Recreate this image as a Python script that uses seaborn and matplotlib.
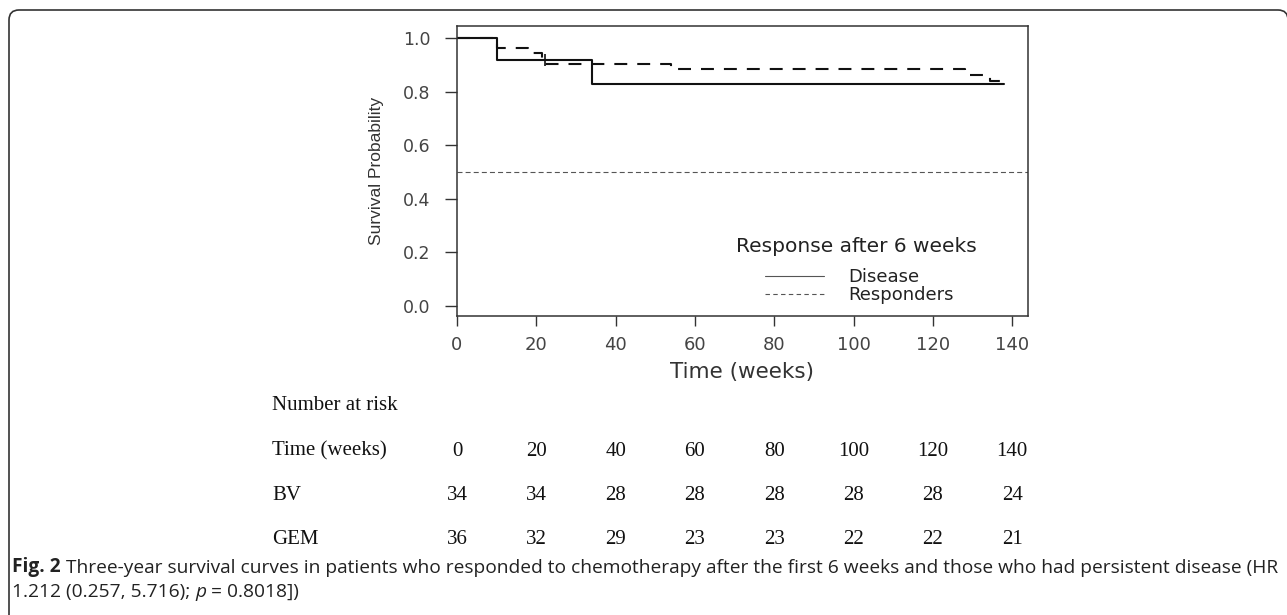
import pandas as pd
import seaborn as sns
import matplotlib.pyplot as plt
from matplotlib.lines import Line2D
from matplotlib.patches import FancyBboxPatch
from matplotlib.transforms import blended_transform_factory

# ----- Survival steps ----- #
disease_time = [0, 10, 34, 138]
disease_surv = [1.0, 0.917, 0.827, 0.827]
responders_time = [0, 10, 18, 21.5, 54, 128, 134.5, 138]
responders_surv = [1.0, 0.963, 0.944, 0.905, 0.883, 0.861, 0.840, 0.840]
censor_time = [22.2]
censor_surv = [0.917]

# ----- Number at risk table ----- #
risk_times = [0, 20, 40, 60, 80, 100, 120, 140]
risk_bv = [34, 34, 28, 28, 28, 28, 28, 24]
risk_gem = [36, 32, 29, 23, 23, 22, 22, 21]

y_ticks = [0.0, 0.2, 0.4, 0.6, 0.8, 1.0]

caption_1 = " Three-year survival curves in patients who responded to chemotherapy after the first 6 weeks and those who had persistent disease (HR"
caption_2a = "1.212 (0.257, 5.716); "
caption_2b = " = 0.8018])"

sns.set_style("ticks")
plt.rcParams["font.family"] = ["DejaVu Sans"]

df = pd.concat([
    pd.DataFrame({"Time": disease_time, "Survival": disease_surv, "Group": "Disease"}),
    pd.DataFrame({"Time": responders_time, "Survival": responders_surv, "Group": "Responders"}),
])

W, H = 1287, 615
fig = plt.figure(figsize=(W / 100, H / 100), dpi=100)
ax = fig.add_axes([457 / W, 1 - 316 / H, 571 / W, 290 / H])

# ----- Curves ----- #
ax.axhline(0.5, color="#555555", lw=0.8, dashes=(4.5, 2.8))
sns.lineplot(data=df, x="Time", y="Survival", style="Group",
             dashes={"Disease": "", "Responders": (6.2, 4.8)},
             color="#111111", lw=1.5, drawstyle="steps-post",
             estimator=None, sort=False, legend=False, ax=ax)
sns.scatterplot(x=censor_time, y=censor_surv, marker="+", s=70,
                color="#111111", linewidth=1.2, ax=ax)

ax.set_xlim(0, 144)
ax.set_ylim(-0.037, 1.045)
ax.set_xticks(risk_times)
ax.set_yticks(y_ticks)
ax.set_yticklabels([f"{v:.1f}" for v in y_ticks])
ax.tick_params(axis="y", length=8.9, width=1.0, pad=10, labelsize=12.5,
               colors="#333333", labelcolor="#444444")
ax.tick_params(axis="x", length=7.2, width=1.0, pad=7, labelsize=13,
               colors="#333333", labelcolor="#444444")
for sp in ax.spines.values():
    sp.set_visible(True)
    sp.set_color("#333333")
    sp.set_linewidth(1.1)

ax.set_xlabel("Time (weeks)", fontsize=15.5, color="#333333", labelpad=6)
ax.set_ylabel("Survival Probability", fontsize=12.5, color="#333333",
              family="Liberation Sans", labelpad=14)

# ----- Legend ----- #
ax.text(0.699, 0.238, "Response after 6 weeks", transform=ax.transAxes,
        ha="center", va="center", fontsize=14.5, color="#222222")
handles = [Line2D([], [], color="#555555", lw=0.8),
           Line2D([], [], color="#555555", lw=0.8, dashes=(4, 3))]
ax.legend(handles, ["Disease", "Responders"], loc="upper left",
          bbox_to_anchor=(0.539, 0.165), frameon=False, fontsize=13,
          handlelength=3.3, handletextpad=1.3, labelspacing=0.0,
          borderpad=0, borderaxespad=0, labelcolor="#222222")

# ----- Number at risk ----- #
serif = dict(family="Liberation Serif", fontsize=15, color="#111111", va="center")
row_y = [1 - 406 / H, 1 - 451 / H, 1 - 496 / H, 1 - 539 / H]
fig.text(272 / W, row_y[0], "Number at risk", ha="left", **serif)
fig.text(272 / W, row_y[1], "Time (weeks)", ha="left", **serif)
fig.text(272 / W, row_y[2], "BV", ha="left", **serif)
fig.text(272 / W, row_y[3], "GEM", ha="left", **serif)
tr = blended_transform_factory(ax.transData, fig.transFigure)
for t, bv, gem in zip(risk_times, risk_bv, risk_gem):
    ax.text(t, row_y[1], str(t), transform=tr, ha="center", clip_on=False, **serif)
    ax.text(t, row_y[2], str(bv), transform=tr, ha="center", clip_on=False, **serif)
    ax.text(t, row_y[3], str(gem), transform=tr, ha="center", clip_on=False, **serif)

# ----- Caption (pieces chained so bold / italic runs line up) ----- #
cap_kw = dict(fontsize=13, color="#222222", va="bottom", family="Open Sans")
c1a = fig.text(12 / W, 1 - 577 / H, "Fig. 2", weight="bold", **cap_kw)
c1b = ax.annotate(caption_1, xy=(1, 0), xycoords=c1a, **cap_kw)
c2a = fig.text(12 / W, 1 - 601 / H, caption_2a, **cap_kw)
c2b = ax.annotate("p", xy=(1, 0), xycoords=c2a, style="italic", **cap_kw)
c2c = ax.annotate(caption_2b, xy=(1, 0), xycoords=c2b, **cap_kw)

# fit the first caption line to the frame width
fig.canvas.draw()
r = fig.canvas.get_renderer()
width = c1b.get_window_extent(r).x1 - c1a.get_window_extent(r).x0
scale = (1270 - 12) / width
for t in (c1a, c1b, c2a, c2b, c2c):
    t.set_fontsize(t.get_fontsize() * scale)

# ----- Frame ----- #
frame = FancyBboxPatch((9, -20), 1279, 625, boxstyle="round,pad=0,rounding_size=10",
                       transform=None, fill=False, ec="#333333", lw=1.2)
fig.add_artist(frame)

fig.savefig("out.png", dpi=100)
